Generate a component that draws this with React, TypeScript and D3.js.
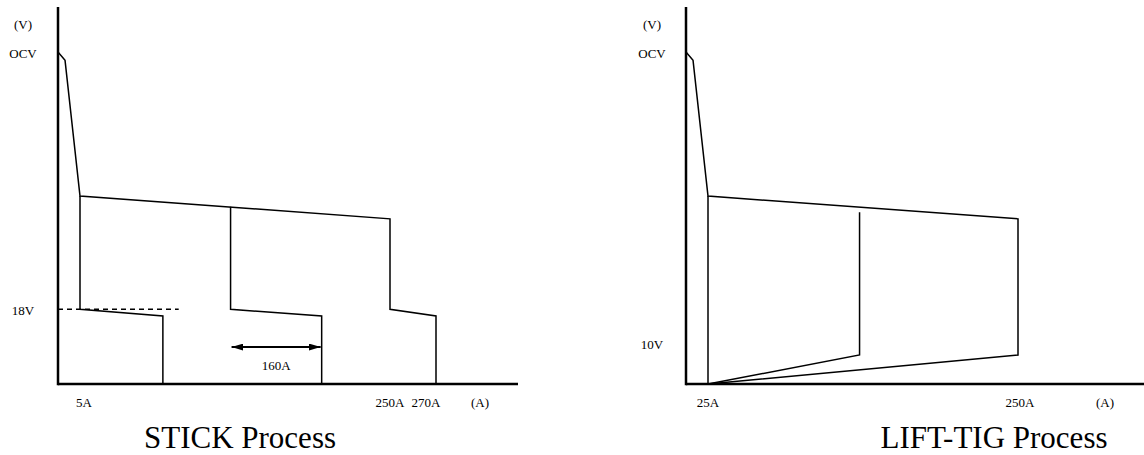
import React, { useRef, useEffect } from 'react';
import * as d3 from 'd3';

// voltage scale shared by both panels (schematic, OCV drawn at 80V)
const OCV = 80;

// STICK process: current (A) / voltage (V)
const stickOuter = [
  { a: 0, v: 80 }, { a: 1.6, v: 78 }, { a: 5, v: 45.3 }, { a: 250, v: 39.8 },
  { a: 250, v: 18 }, { a: 270, v: 16.4 }, { a: 270, v: 0 }
];
const stickMid = [{ a: 124, v: 42.7 }, { a: 124, v: 18 }, { a: 196, v: 16.4 }, { a: 196, v: 0 }];
const stickLow = [{ a: 5, v: 45.3 }, { a: 5, v: 18 }, { a: 70.5, v: 16.4 }, { a: 70.5, v: 0 }];
const stickDashed = [{ a: 0, v: 18 }, { a: 83, v: 18 }];
const stickArrow = { from: 124, to: 196, v: 8.9, label: '160A' };
const stickXTicks = [{ a: 5, label: '5A' }, { a: 250, label: '250A' }, { a: 270, label: '270A' }];
const stickYTicks = [{ v: OCV, label: 'OCV' }, { v: 18, label: '18V' }];

// LIFT-TIG process
const tigOuter = [
  { a: 0, v: 80 }, { a: 8, v: 78 }, { a: 25, v: 45.3 }, { a: 250, v: 39.8 },
  { a: 250, v: 7 }, { a: 25, v: 0 }
];
const tigMid = [{ a: 135, v: 41.4 }, { a: 135, v: 7 }, { a: 25, v: 0 }];
const tigLeft = [{ a: 25, v: 45.3 }, { a: 25, v: 0 }];
const tigXTicks = [{ a: 25, label: '25A' }, { a: 250, label: '250A' }];
const tigYTicks = [{ v: OCV, label: 'OCV' }, { v: 10, label: '10V' }];

const FONT = '"Liberation Serif", "Times New Roman", serif';

const App = () => {
  const svgRef = useRef(null);

  useEffect(() => {
    const svg = d3.select(svgRef.current);
    svg.selectAll('*').remove();

    svg.append('defs').append('marker')
      .attr('id', 'head')
      .attr('viewBox', '0 0 10 6')
      .attr('refX', 10)
      .attr('refY', 3)
      .attr('markerWidth', 12)
      .attr('markerHeight', 7)
      .attr('markerUnits', 'userSpaceOnUse')
      .attr('orient', 'auto-start-reverse')
      .append('path')
      .attr('d', 'M0,0 L10,3 L0,6 Z')
      .attr('fill', '#000');

    const y = d3.scaleLinear().domain([0, OCV]).range([384, 52]);

    const drawPanel = (cfg) => {
      const { x, axisLeft, axisRight, curves, xTicks, yTicks, title, titleX, unitX, labelX, tickNudge } = cfg;
      const g = svg.append('g');
      const line = d3.line().x(d => x(d.a)).y(d => y(d.v));

      // axes
      g.append('line').attr('x1', axisLeft).attr('x2', axisLeft).attr('y1', 7).attr('y2', y(0) + 1.2)
        .attr('stroke', '#000').attr('stroke-width', 2.5);
      g.append('line').attr('x1', axisLeft).attr('x2', axisRight).attr('y1', y(0)).attr('y2', y(0))
        .attr('stroke', '#000').attr('stroke-width', 2.5);

      curves.forEach(c => {
        g.append('path').attr('d', line(c)).attr('fill', 'none')
          .attr('stroke', '#000').attr('stroke-width', 1.5).attr('stroke-linejoin', 'miter');
      });

      // labels
      g.append('text').attr('x', labelX).attr('y', 29).attr('text-anchor', 'middle')
        .attr('font-size', 13).attr('font-family', FONT).text('(V)');
      yTicks.forEach(t => {
        g.append('text').attr('x', labelX).attr('y', y(t.v) + 6).attr('text-anchor', 'middle')
          .attr('font-size', 13).attr('font-family', FONT).text(t.label);
      });
      xTicks.forEach((t, i) => {
        g.append('text').attr('x', x(t.a) + (tickNudge[i] || 0)).attr('y', 407).attr('text-anchor', 'middle')
          .attr('font-size', 13).attr('font-family', FONT).text(t.label);
      });
      g.append('text').attr('x', unitX).attr('y', 407).attr('text-anchor', 'middle')
        .attr('font-size', 13).attr('font-family', FONT).text('(A)');
      g.append('text').attr('x', titleX).attr('y', 448).attr('text-anchor', 'middle')
        .attr('font-size', 31).attr('font-family', FONT).text(title);
      return { g, line };
    };

    const xStick = d3.scaleLinear().domain([0, 5, 250, 270]).range([58, 80, 390, 436]);
    const stick = drawPanel({
      x: xStick, axisLeft: 58, axisRight: 518,
      curves: [stickOuter, stickMid, stickLow],
      xTicks: stickXTicks, yTicks: stickYTicks, tickNudge: [4, 0, -10],
      title: 'STICK Process', titleX: 240, unitX: 480, labelX: 23
    });
    stick.g.append('path').attr('d', stick.line(stickDashed)).attr('fill', 'none')
      .attr('stroke', '#000').attr('stroke-width', 1.5).attr('stroke-dasharray', '5,4');
    stick.g.append('line')
      .attr('x1', xStick(stickArrow.from) + 1).attr('x2', xStick(stickArrow.to) - 1)
      .attr('y1', y(stickArrow.v)).attr('y2', y(stickArrow.v))
      .attr('stroke', '#000').attr('stroke-width', 2)
      .attr('marker-start', 'url(#head)').attr('marker-end', 'url(#head)');
    stick.g.append('text')
      .attr('x', xStick((stickArrow.from + stickArrow.to) / 2)).attr('y', y(stickArrow.v) + 23)
      .attr('text-anchor', 'middle').attr('font-size', 13).attr('font-family', FONT).text(stickArrow.label);

    const xTig = d3.scaleLinear().domain([0, 25, 250]).range([686, 708, 1018]);
    drawPanel({
      x: xTig, axisLeft: 686, axisRight: 1144,
      curves: [tigOuter, tigMid, tigLeft],
      xTicks: tigXTicks, yTicks: tigYTicks, tickNudge: [0, 2],
      title: 'LIFT-TIG Process', titleX: 994, unitX: 1105, labelX: 652
    });
  }, []);

  return (
    <svg ref={svgRef} width={1144} height={455}
      style={{ position: 'absolute', left: 0, top: 0, background: '#fff' }} />
  );
};

export default App;
